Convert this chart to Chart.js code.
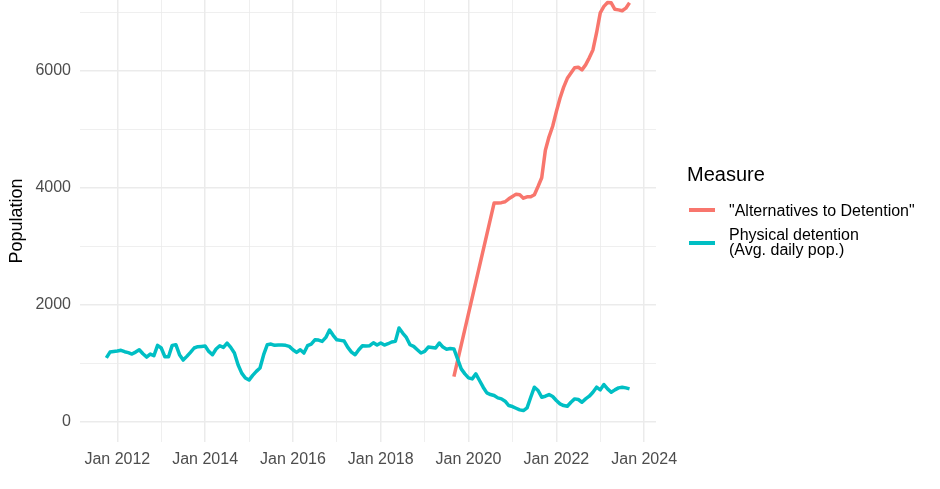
<!DOCTYPE html>
<html>
<head>
<meta charset="utf-8">
<script src="https://cdn.jsdelivr.net/npm/chart.js@4"></script>
<style>
  body { margin: 0; background: #fff; font-family: "Liberation Sans", Arial, sans-serif; }
  #wrap { position: relative; width: 940px; height: 489px; }
  #chart { position: absolute; left: 0; top: 0; }
  .legend { position: absolute; left: 687px; top: 0; color: #000; }
  .legend .title { position: absolute; top: 163px; font-size: 20px; white-space: nowrap; }
  .legend .key { position: absolute; left: 2px; width: 26px; height: 4px; }
  .legend .lab { position: absolute; left: 42px; font-size: 16px; line-height: 15px; white-space: nowrap; }
</style>
</head>
<body>
<div id="wrap">
  <canvas id="chart" width="690" height="489"></canvas>
  <div class="legend" id="legend"></div>
</div>
<script>
// Physical detention, monthly from Oct 2011
const detentionStart = '2011-10';
const detentionValues = [
  1090, 1190, 1200, 1208, 1220, 1196, 1180, 1156, 1190, 1230, 1162, 1105,
  1156, 1128, 1305, 1260, 1111, 1111, 1305, 1316, 1145, 1054, 1117, 1185,
  1260, 1282, 1287, 1293, 1202, 1145, 1242, 1299, 1270, 1345, 1270, 1174,
  974, 830, 746, 712, 792, 860, 917, 1145, 1316, 1327, 1305, 1310,
  1310, 1305, 1287, 1230, 1185, 1230, 1174, 1299, 1327, 1400, 1396, 1373,
  1441, 1567, 1476, 1400, 1390, 1379, 1270, 1190, 1145, 1230, 1299, 1293,
  1299, 1350, 1310, 1345, 1310, 1333, 1362, 1373, 1601, 1515, 1441, 1316,
  1287, 1230, 1174, 1202, 1276, 1270, 1259, 1345, 1276, 1240, 1250, 1245,
  1074, 903, 818, 749, 732, 818, 704, 590, 493, 464, 447, 407,
  390, 350, 276, 259, 230, 202, 190, 236, 419, 590, 533, 419,
  436, 464, 430, 362, 305, 276, 265, 333, 390, 379, 333, 390,
  436, 504, 590, 544, 635, 561, 504, 544, 578, 590, 578, 561
];

// "Alternatives to Detention" (gap between Sep 2019 and Aug 2020)
const atdMonths = [
  '2019-09', '2020-08', '2020-09', '2020-10', '2020-11', '2020-12',
  '2021-01', '2021-02', '2021-03', '2021-04', '2021-05', '2021-06',
  '2021-07', '2021-08', '2021-09', '2021-10', '2021-11', '2021-12',
  '2022-01', '2022-02', '2022-03', '2022-04', '2022-05', '2022-06',
  '2022-07', '2022-08', '2022-09', '2022-10', '2022-11', '2022-12',
  '2023-01', '2023-02', '2023-03', '2023-04', '2023-05', '2023-06',
  '2023-07', '2023-08', '2023-09'
];
const atdValues = [
  770, 3740, 3740, 3745, 3760, 3810,
  3850, 3890, 3880, 3820, 3845, 3845,
  3880, 4020, 4170, 4640, 4870, 5050,
  5300, 5530, 5720, 5870, 5960, 6050,
  6060, 6015, 6100, 6220, 6355, 6650,
  6990, 7100, 7165, 7160, 7050, 7040,
  7025, 7070, 7160
];

const seriesNames = ['"Alternatives to Detention"', 'Physical detention\n(Avg. daily pop.)'];
const seriesColors = ['#F8766D', '#00BFC4'];
const xTickYears = [2012, 2013, 2014, 2015, 2016, 2017, 2018, 2019, 2020, 2021, 2022, 2023, 2024];
const yTickValues = [0, 1000, 2000, 3000, 4000, 5000, 6000, 7000];

function toYear(s) {
  const [y, m] = s.split('-').map(Number);
  return y + (m - 1) / 12;
}

const detStartYear = toYear(detentionStart);
const detentionPoints = detentionValues.map((v, i) => ({ x: detStartYear + i / 12, y: v }));
const atdPoints = atdMonths.map((m, i) => ({ x: toYear(m), y: atdValues[i] }));

Chart.defaults.font.family = '"Liberation Sans", Arial, sans-serif';

const gridColor = '#EBEBEB';

// let labels overflow the plot edges like ggplot does
function noPadding(axis) {
  axis.paddingTop = 0;
  axis.paddingBottom = 0;
  axis.paddingLeft = 0;
  axis.paddingRight = 0;
}

new Chart(document.getElementById('chart').getContext('2d'), {
  type: 'line',
  data: {
    datasets: [
      {
        label: seriesNames[1],
        data: detentionPoints,
        borderColor: seriesColors[1],
        borderWidth: 3.5,
        borderJoinStyle: 'round',
        pointRadius: 0,
        tension: 0
      },
      {
        label: seriesNames[0],
        data: atdPoints,
        borderColor: seriesColors[0],
        borderWidth: 3.5,
        borderJoinStyle: 'round',
        pointRadius: 0,
        tension: 0
      }
    ]
  },
  options: {
    responsive: false,
    animation: false,
    layout: { padding: { left: 0, right: 34, top: 0, bottom: 0 } },
    plugins: { legend: { display: false }, tooltip: { enabled: false } },
    scales: {
      x: {
        type: 'linear',
        min: 2011.15,
        max: 2024.27,
        afterBuildTicks: (axis) => { axis.ticks = xTickYears.map(v => ({ value: v })); },
        afterFit: (axis) => { axis.height = 47; noPadding(axis); },
        grid: {
          color: gridColor,
          lineWidth: (c) => (c.tick && c.tick.value % 2 === 0 ? 1.5 : 0.8),
          drawTicks: false
        },
        border: { display: false },
        ticks: {
          autoSkip: false,
          maxRotation: 0,
          padding: 8,
          color: '#4D4D4D',
          font: { size: 16 },
          callback: (v) => (v % 2 === 0 ? 'Jan ' + v : '')
        }
      },
      y: {
        min: -347,
        max: 7209,
        afterBuildTicks: (axis) => { axis.ticks = yTickValues.map(v => ({ value: v })); },
        afterFit: (axis) => { axis.width = 80; noPadding(axis); },
        grid: {
          color: gridColor,
          lineWidth: (c) => (c.tick && c.tick.value % 2000 === 0 ? 1.5 : 0.8),
          drawTicks: false
        },
        border: { display: false },
        title: {
          display: true,
          text: 'Population',
          color: '#000',
          font: { size: 18 },
          padding: { top: 6, bottom: 0 }
        },
        ticks: {
          padding: 9,
          color: '#4D4D4D',
          font: { size: 16 },
          callback: (v) => (v % 2000 === 0 ? String(v) : '')
        }
      }
    }
  }
});

// legend, ggplot style on the right
const legend = document.getElementById('legend');
legend.innerHTML =
  '<div class="title">Measure</div>' +
  '<div class="key" style="top:208px;background:' + seriesColors[0] + '"></div>' +
  '<div class="lab" style="top:203px">' + seriesNames[0] + '</div>' +
  '<div class="key" style="top:241px;background:' + seriesColors[1] + '"></div>' +
  '<div class="lab" style="top:227px">' + seriesNames[1].replace('\n', '<br>') + '</div>';
</script>
</body>
</html>
